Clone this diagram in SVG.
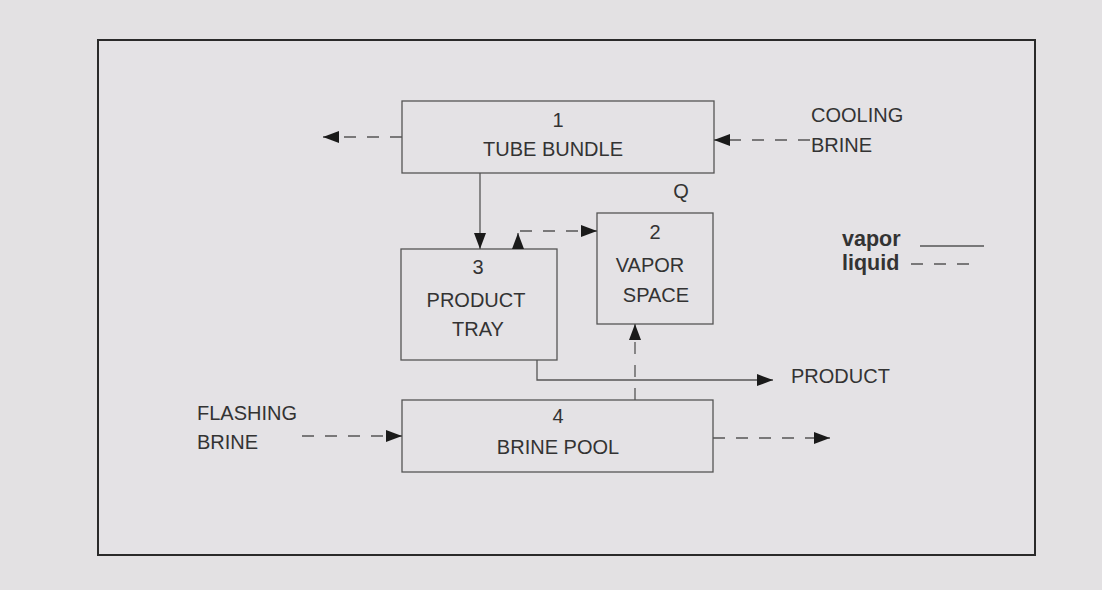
<svg xmlns="http://www.w3.org/2000/svg" width="1102" height="590" viewBox="0 0 1102 590">
<style>
.box{fill:none;stroke:#555;stroke-width:1.3}
.t{font-family:"Liberation Sans",Arial,sans-serif;font-size:20px;fill:#333;text-anchor:middle}
.tl{font-family:"Liberation Sans",Arial,sans-serif;font-size:20px;fill:#333}
.b{font-family:"Liberation Sans",Arial,sans-serif;font-size:21.5px;font-weight:bold;fill:#333}
.solid{fill:none;stroke:#555;stroke-width:1.3}
.dash{fill:none;stroke:#555;stroke-width:1.3;stroke-dasharray:12 11}
</style>
<defs>
<marker id="ah" viewBox="0 0 16 12" refX="16" refY="6" markerWidth="16" markerHeight="12" markerUnits="userSpaceOnUse" orient="auto">
<path d="M0,0 L16,6 L0,12 z" fill="#1a1a1a"/>
</marker>
</defs>
<rect x="0" y="0" width="1102" height="590" fill="#e3e1e3"/>
<rect x="98" y="40" width="937" height="515" fill="#e4e2e5" stroke="#2a2a2a" stroke-width="2"/>
<g id="tube-bundle">
<rect class="box" x="402" y="101" width="312" height="72"/>
<text class="t" x="558" y="127">1</text>
<text class="t" x="553" y="156">TUBE BUNDLE</text>
</g>
<g id="vapor-space">
<rect class="box" x="597" y="213" width="116" height="111"/>
<text class="t" x="655" y="239">2</text>
<text class="t" x="650" y="272">VAPOR</text>
<text class="t" x="656" y="302">SPACE</text>
</g>
<g id="product-tray">
<rect class="box" x="401" y="249" width="156" height="111"/>
<text class="t" x="478" y="274">3</text>
<text class="t" x="476" y="307">PRODUCT</text>
<text class="t" x="478" y="336">TRAY</text>
</g>
<g id="brine-pool">
<rect class="box" x="402" y="400" width="311" height="72"/>
<text class="t" x="558" y="423">4</text>
<text class="t" x="558" y="454">BRINE POOL</text>
</g>
<g id="labels">
<text class="tl" x="811" y="122">COOLING</text>
<text class="tl" x="811" y="152">BRINE</text>
<text class="t" x="681" y="198">Q</text>
<text class="tl" x="197" y="420">FLASHING</text>
<text class="tl" x="197" y="449">BRINE</text>
<text class="tl" x="791" y="383">PRODUCT</text>
</g>
<g id="legend">
<text class="b" x="842" y="246">vapor</text>
<text class="b" x="842" y="270">liquid</text>
<line class="solid" x1="920" y1="246" x2="984" y2="246"/>
<line class="dash" x1="911" y1="264" x2="973" y2="264" stroke-dasharray="10 12"/>
</g>
<g id="connectors">
<path class="dash" d="M402,137 L323,137" marker-end="url(#ah)"/>
<path class="dash" d="M810,140 L714,140" marker-end="url(#ah)"/>
<path class="solid" d="M480,173 L480,249" marker-end="url(#ah)"/>
<path class="solid" d="M518,249 L518,233" marker-end="url(#ah)"/>
<path class="dash" d="M520,231 L597,231" stroke-dasharray="10 10" marker-end="url(#ah)"/>
<path class="dash" d="M635,400 L635,324" stroke-dasharray="12 14" marker-end="url(#ah)"/>
<path class="solid" d="M537,360 L537,380 L773,380" marker-end="url(#ah)"/>
<path class="dash" d="M302,436 L402,436" marker-end="url(#ah)"/>
<path class="dash" d="M713,438 L830,438" marker-end="url(#ah)"/>
</g>
</svg>
